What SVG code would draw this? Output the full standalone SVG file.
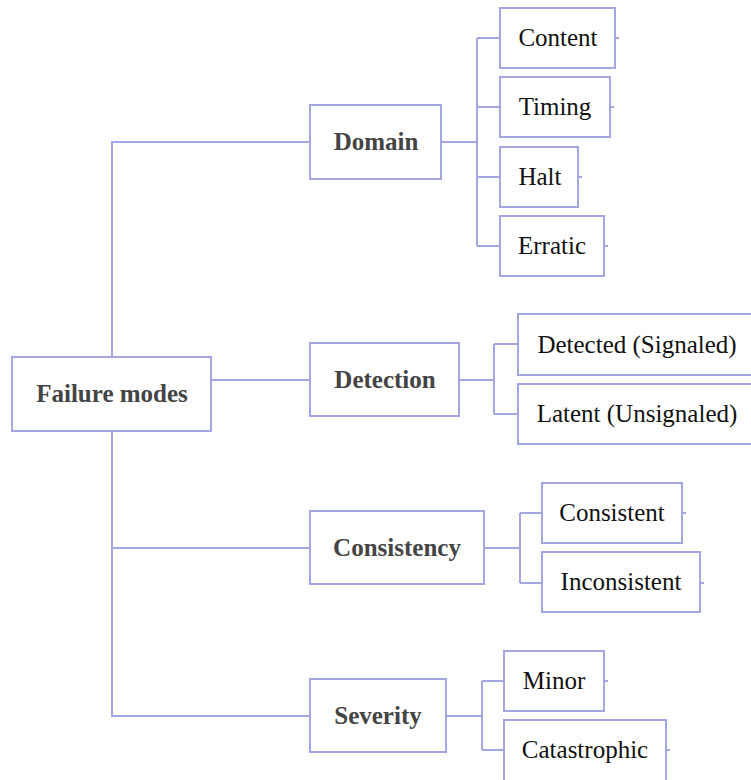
<svg xmlns="http://www.w3.org/2000/svg" width="751" height="780" viewBox="0 0 751 780" font-family="Liberation Serif" font-size="25">
<style>
.box{fill:#fff;stroke:#a3a6e0;stroke-width:2}
.ln{fill:none;stroke:#a3a6e0;stroke-width:2}
.b{font-weight:bold;fill:#444;text-anchor:middle}
.r{fill:#111;text-anchor:middle}
</style>
<rect width="751" height="780" fill="#fff"/>
<g id="connectors" class="ln">
<path d="M112 357V142H310M112 431V716H310M112 548H310M211 380H310"/>
<path d="M441 142H477M477 38V246M477 38H500M477 107H500M477 177H500M477 246H500"/>
<path d="M459 380H494M494 344V414M494 344H518M494 414H518"/>
<path d="M484 548H520M520 513V583M520 513H542M520 583H542"/>
<path d="M446 716H482M482 681V750M482 681H504M482 750H504"/>
<path d="M615 38H619M610 107H614M578 177H582M604 246H608M682 513H686M700 583H704M604 681H608M666 750H670"/>
</g>
<g id="failure-modes"><rect class="box" x="12" y="357" width="199" height="74"/><text class="b" x="112" y="402" font-family="Liberation Serif" font-weight="bold" text-anchor="middle">Failure modes</text></g>
<g id="domain"><rect class="box" x="310" y="105" width="131" height="74"/><text class="b" x="376" y="150" font-family="Liberation Serif" font-weight="bold" text-anchor="middle">Domain</text></g>
<g id="detection"><rect class="box" x="310" y="343" width="149" height="73"/><text class="b" x="385" y="388" font-family="Liberation Serif" font-weight="bold" text-anchor="middle">Detection</text></g>
<g id="consistency"><rect class="box" x="310" y="511" width="174" height="73"/><text class="b" x="397" y="556" font-family="Liberation Serif" font-weight="bold" text-anchor="middle">Consistency</text></g>
<g id="severity"><rect class="box" x="310" y="679" width="136" height="73"/><text class="b" x="378" y="724" font-family="Liberation Serif" font-weight="bold" text-anchor="middle">Severity</text></g>
<g id="content"><rect class="box" x="500" y="8" width="115" height="60"/><text class="r" x="558" y="46" font-family="Liberation Serif" text-anchor="middle">Content</text></g>
<g id="timing"><rect class="box" x="500" y="77" width="110" height="60"/><text class="r" x="555" y="115" font-family="Liberation Serif" text-anchor="middle">Timing</text></g>
<g id="halt"><rect class="box" x="500" y="147" width="78" height="60"/><text class="r" x="540" y="185" font-family="Liberation Serif" text-anchor="middle">Halt</text></g>
<g id="erratic"><rect class="box" x="500" y="216" width="104" height="60"/><text class="r" x="552" y="254" font-family="Liberation Serif" text-anchor="middle">Erratic</text></g>
<g id="detected"><rect class="box" x="518" y="314" width="238" height="61"/><text class="r" x="637" y="353" font-family="Liberation Serif" text-anchor="middle">Detected (Signaled)</text></g>
<g id="latent"><rect class="box" x="518" y="384" width="238" height="60"/><text class="r" x="637" y="422" font-family="Liberation Serif" text-anchor="middle">Latent (Unsignaled)</text></g>
<g id="consistent"><rect class="box" x="542" y="483" width="140" height="60"/><text class="r" x="612" y="521" font-family="Liberation Serif" text-anchor="middle">Consistent</text></g>
<g id="inconsistent"><rect class="box" x="542" y="552" width="158" height="60"/><text class="r" x="621" y="590" font-family="Liberation Serif" text-anchor="middle">Inconsistent</text></g>
<g id="minor"><rect class="box" x="504" y="651" width="100" height="60"/><text class="r" x="554" y="689" font-family="Liberation Serif" text-anchor="middle">Minor</text></g>
<g id="catastrophic"><rect class="box" x="504" y="720" width="162" height="62"/><text class="r" x="585" y="758" font-family="Liberation Serif" text-anchor="middle">Catastrophic</text></g>
</svg>
